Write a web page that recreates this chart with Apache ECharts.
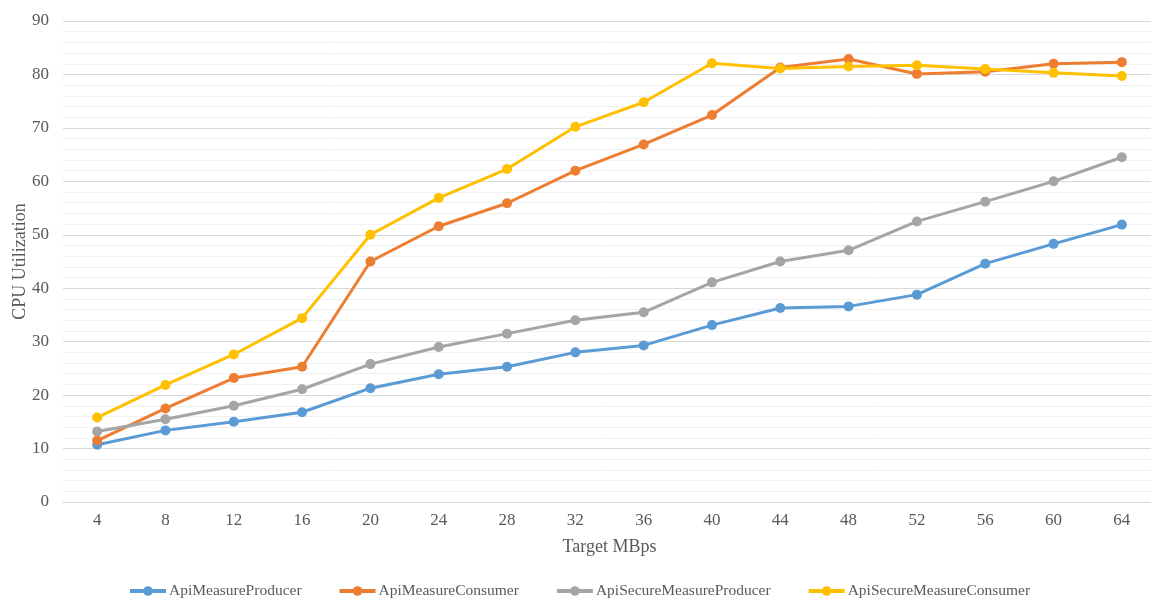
<!DOCTYPE html>
<html>
<head>
<meta charset="utf-8">
<script src="https://cdn.jsdelivr.net/npm/echarts@6/dist/echarts.min.js"></script>
<style>
  html, body { margin: 0; padding: 0; background: #fff; }
  #chart { width: 1151px; height: 598px; }
</style>
</head>
<body>
<div id="chart"></div>
<script>
// Target throughput (MBps) on the category axis
const categories = ['4', '8', '12', '16', '20', '24', '28', '32', '36', '40', '44', '48', '52', '56', '60', '64'];

// CPU utilization per test configuration
const apiMeasureProducer = [10.7, 13.4, 15.0, 16.8, 21.3, 23.9, 25.3, 28.0, 29.3, 33.1, 36.3, 36.6, 38.8, 44.6, 48.3, 51.9];
const apiMeasureConsumer = [11.5, 17.5, 23.2, 25.3, 45.0, 51.6, 55.9, 62.0, 66.9, 72.4, 81.3, 82.9, 80.1, 80.5, 82.0, 82.3];
const apiSecureMeasureProducer = [13.2, 15.5, 18.0, 21.1, 25.8, 29.0, 31.5, 34.0, 35.5, 41.1, 45.0, 47.1, 52.5, 56.2, 60.0, 64.5];
const apiSecureMeasureConsumer = [15.8, 21.9, 27.6, 34.4, 50.0, 56.9, 62.3, 70.2, 74.8, 82.1, 81.1, 81.5, 81.7, 81.0, 80.3, 79.7];

const seriesNames = ['ApiMeasureProducer', 'ApiMeasureConsumer', 'ApiSecureMeasureProducer', 'ApiSecureMeasureConsumer'];
const seriesData = [apiMeasureProducer, apiMeasureConsumer, apiSecureMeasureProducer, apiSecureMeasureConsumer];
const colors = ['#5B9BD5', '#ED7D31', '#A5A5A5', '#FFC000'];

const font = '"Liberation Serif", "Times New Roman", serif';
const textColor = '#595959';

const chart = echarts.init(document.getElementById('chart'), null, { renderer: 'canvas' });

chart.setOption({
  animation: false,
  color: colors,
  textStyle: { fontFamily: font, color: textColor },
  // plot area runs slightly past the right edge of the canvas
  grid: { left: 63, top: 21, width: 1093, height: 481, containLabel: false, outerBoundsMode: 'none' },
  legend: {
    top: 583,
    left: 128,
    padding: 0,
    itemWidth: 36,
    itemHeight: 12,
    itemGap: 36,
    lineStyle: { width: 4 },
    textStyle: { fontFamily: font, fontSize: 15.5, color: textColor, padding: [0, 0, 0, -2] },
    data: seriesNames
  },
  xAxis: {
    type: 'category',
    data: categories,
    boundaryGap: true,
    name: 'Target MBps',
    nameLocation: 'middle',
    nameGap: 36,
    nameMoveOverlap: false,
    nameTextStyle: { fontFamily: font, fontSize: 18, color: textColor },
    axisLine: { show: true, lineStyle: { color: '#D9D9D9', width: 1 } },
    axisTick: { show: false },
    axisLabel: { fontFamily: font, fontSize: 17, color: textColor, margin: 10 },
    splitLine: { show: false }
  },
  yAxis: {
    type: 'value',
    min: 0,
    max: 90,
    interval: 10,
    name: 'CPU Utilization',
    nameLocation: 'middle',
    nameGap: 34,
    nameMoveOverlap: false,
    nameRotate: 90,
    nameTextStyle: { fontFamily: font, fontSize: 18, color: textColor },
    axisLine: { show: false },
    axisTick: { show: false },
    axisLabel: { fontFamily: font, fontSize: 17, color: textColor, margin: 14 },
    splitLine: { show: true, lineStyle: { color: '#D9D9D9', width: 1 } },
    minorTick: { show: false, splitNumber: 5 },
    minorSplitLine: { show: true, lineStyle: { color: '#F0F0F0', width: 1 } }
  },
  series: seriesNames.map((name, i) => ({
    name,
    type: 'line',
    data: seriesData[i],
    symbol: 'circle',
    symbolSize: 10,
    lineStyle: { width: 3, color: colors[i] },
    itemStyle: { color: colors[i] },
    z: 2 + i
  }))
});
</script>
</body>
</html>
